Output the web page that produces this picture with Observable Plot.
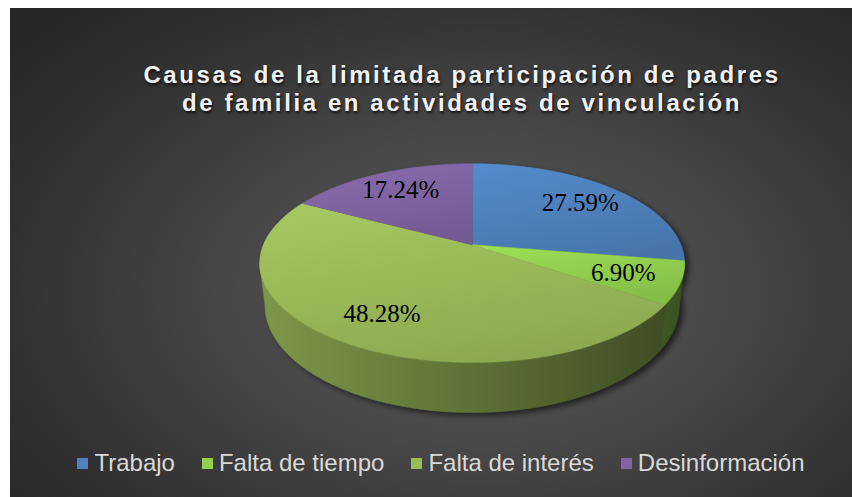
<!DOCTYPE html>
<html><head><meta charset="utf-8">
<script src="https://cdn.jsdelivr.net/npm/d3@7"></script>
<script src="https://cdn.jsdelivr.net/npm/@observablehq/plot@0.6"></script>
<style>
html,body{margin:0;padding:0;background:#fff;}
#chart{position:absolute;left:10px;top:8px;width:842px;height:489px;overflow:hidden;
background:radial-gradient(ellipse 72% 78% at 56% 58%, #5a5a5a 0%, #484848 40%, #303030 80%, #272727 100%);
font-family:"Liberation Sans",Arial,sans-serif;}
#title{position:absolute;left:31px;top:53px;width:842px;text-align:center;color:#f2f2f2;font-weight:bold;font-size:24px;line-height:28px;letter-spacing:2.6px;text-shadow:1px 2px 3px rgba(0,0,0,0.75);}
#plot{position:absolute;left:0;top:112px;}
#legend{position:absolute;left:10px;top:441px;width:842px;height:28px;display:flex;justify-content:center;align-items:center;color:#d9d9d9;font-size:24px;}
.item{display:flex;align-items:center;margin:0 13.5px;white-space:nowrap;}
.sw{width:11px;height:11px;margin-right:6px;}
</style></head><body>
<div id="chart">
 <div id="title">Causas de la limitada participación de padres<br>de familia en actividades de vinculación</div>
 <div id="plot"></div>
 <div id="legend"></div>
</div>
<script>
const categories = ["Trabajo", "Falta de tiempo", "Falta de interés", "Desinformación"];
const values = [27.59, 6.90, 48.28, 17.24];
const labels = ["27.59%", "6.90%", "48.28%", "17.24%"];
const colors = ["#4f81bd", "#92d050", "#9bbb59", "#8064a2"];

// 3D pie projection parameters (layout)
const A = 208.8, B = 96, E = -0.1847, D = 40.8, SHRINK = 0.975, LABEL_R = 0.74;
function proj(r, t, bottom) {
  const u = r * Math.sin(t), v = -r * Math.cos(t);
  const den = 1 + E * v;
  return {x: A * u / den * (bottom ? SHRINK : 1), y: B * v / den + (bottom ? D / den : 0)};
}
const arcs = d3.pie().sort(null).value(d => d)(values);
const step = Math.PI / 360;
function arcPts(a0, a1, bottom) {
  const n = Math.max(2, Math.ceil((a1 - a0) / step));
  return d3.range(n + 1).map(i => proj(1, a0 + (a1 - a0) * i / n, bottom));
}
const tops = arcs.map((a, i) => [{x: 0, y: 0}, ...arcPts(a.startAngle, a.endAngle, false)]);
const tR = Math.acos(E), tL = 2 * Math.PI - tR;
const sides = [];
arcs.forEach((a, i) => {
  const s = Math.max(a.startAngle, tR), e = Math.min(a.endAngle, tL);
  if (e > s) sides.push({i, pts: [...arcPts(s, e, false), ...arcPts(s, e, true).reverse()]});
});
const shadowRows = [
  ...arcPts(0, 2 * Math.PI, true).map(p => ({...p, k: "b"})),
  ...arcPts(0, 2 * Math.PI, false).map(p => ({...p, k: "t"}))
];
const labelRows = arcs.map((a, i) => ({...proj(LABEL_R, (a.startAngle + a.endAngle) / 2, false), label: labels[i]}));

const chart = Plot.plot({
  width: 842, height: 320, margin: 0,
  x: {domain: [-461.7, 380.3], range: [0, 842], axis: null},
  y: {domain: [-124.3, 195.7], range: [0, 320], axis: null},
  style: {background: "transparent", overflow: "visible"},
  marks: [
    Plot.line(shadowRows, {x: "x", y: "y", z: "k", fill: "#000", fillOpacity: 0.6, stroke: "none", curve: "linear-closed", dx: 4, dy: 3}),
    ...sides.map(s => Plot.line(s.pts, {x: "x", y: "y", fill: `url(#side${s.i})`, stroke: `url(#side${s.i})`, strokeWidth: 0.6, curve: "linear-closed"})),
    ...tops.map((pts, i) => Plot.line(pts, {x: "x", y: "y", fill: `url(#top${i})`, stroke: `url(#top${i})`, strokeWidth: 0.6, curve: "linear-closed"})),
    Plot.text(labelRows, {x: "x", y: "y", text: "label", fontFamily: "'Liberation Serif', serif", fontSize: 25, fill: "#000"})
  ]
});
document.getElementById("plot").appendChild(chart);

const xs = chart.scale("x");
const svg = d3.select(chart);
const defs = svg.insert("defs", ":first-child");
const f = defs.append("filter").attr("id", "blur").attr("x", "-20%").attr("y", "-20%").attr("width", "140%").attr("height", "140%");
f.append("feGaussianBlur").attr("stdDeviation", 3);
svg.select('g[aria-label="line"]').attr("filter", "url(#blur)");
colors.forEach((c, i) => {
  const g = defs.append("linearGradient").attr("id", `top${i}`).attr("x1", 0.2).attr("y1", 0).attr("x2", 0.6).attr("y2", 1);
  g.append("stop").attr("offset", 0).attr("stop-color", d3.color(c).brighter(0.18));
  g.append("stop").attr("offset", 1).attr("stop-color", d3.color(c).darker(0.28));
  const s = defs.append("linearGradient").attr("id", `side${i}`).attr("gradientUnits", "userSpaceOnUse")
    .attr("x1", xs.apply(-A)).attr("y1", 0).attr("x2", xs.apply(A)).attr("y2", 0);
  s.append("stop").attr("offset", 0).attr("stop-color", d3.color(c).darker(0.6));
  s.append("stop").attr("offset", 0.5).attr("stop-color", d3.color(c).darker(1.4));
  s.append("stop").attr("offset", 1).attr("stop-color", d3.color(c).darker(2.6));
});

const legend = d3.select("#legend");
categories.forEach((c, i) => {
  const it = legend.append("div").attr("class", "item");
  it.append("div").attr("class", "sw").style("background", colors[i]);
  it.append("span").text(c);
});
</script>
</body></html>
